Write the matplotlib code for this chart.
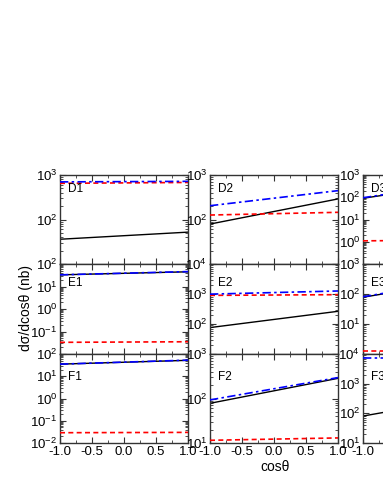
import numpy as np
import matplotlib
matplotlib.use("Agg")
import matplotlib.pyplot as plt
from matplotlib.ticker import FuncFormatter, LogLocator, MultipleLocator, NullFormatter

plt.rcParams['font.family'] = ['Liberation Sans', 'DejaVu Sans']
plt.rcParams['mathtext.default'] = 'regular'

# ---- data ----
cos_theta = [-1.0, 1.0]
panel_names = [["D1", "D2", "D3"], ["E1", "E2", "E3"], ["F1", "F2", "F3"]]

black = {
    "D1": [36, 52], "D2": [79, 290], "D3": [90, 650],
    "E1": [33, 45], "E2": [76, 265], "E3": [78, 400],
    "F1": [35, 52], "F2": [78, 284], "F3": [81, 470],
}
red = {
    "D1": [650, 680], "D2": [126, 145], "D3": [1.1, 1.2],
    "E1": [0.033, 0.035], "E2": [900, 950], "E3": [1.3, 1.3],
    "F1": [0.029, 0.030], "F2": [11.5, 13], "F3": [20000, 20000],
}
blue = {
    "D1": [700, 720], "D2": [204, 445], "D3": [95, 700],
    "E1": [33, 46], "E2": [990, 1260], "E3": [81, 420],
    "F1": [35, 53], "F2": [93, 295], "F3": [7500, 7500],
}
ylims = {
    "D1": (1e1, 1e3), "D2": (1e1, 1e3), "D3": (1e-1, 1e3),
    "E1": (1e-2, 1e2), "E2": (1e1, 1e4), "E3": (1e0, 1e3),
    "F1": (1e-2, 1e2), "F2": (1e1, 1e3), "F3": (1e1, 1e4),
}
xticks = [-1.0, -0.5, 0.0, 0.5, 1.0]
xticklabels = ["-1.0", "-0.5", "0.0", "0.5", "1.0"]

# ---- layout ----
W, H = 383, 495
fig = plt.figure(figsize=(W / 100, H / 100), dpi=100)
col_left = [60, 210, 363]
col_w = 128
row_top = [175, 264, 354]
row_bot = [264, 354, 443]
label_off = [14, 19, 23]

spine_col = '#333333'


def make_fmt(hide_val):
    def f(v, pos):
        e = int(round(np.log10(v)))
        if hide_val is not None and abs(np.log10(v) - np.log10(hide_val)) < 1e-6:
            return ''
        return r'$\mathregular{10^{%d}}$' % e
    return FuncFormatter(f)


for r in range(3):
    for c in range(3):
        name = panel_names[r][c]
        left = col_left[c] / W
        bottom = 1 - row_bot[r] / H
        height = (row_bot[r] - row_top[r]) / H
        ax = fig.add_axes([left, bottom, col_w / W, height])
        ax.set_yscale('log')
        ax.plot(cos_theta, black[name], color='black', lw=1.0, zorder=2)
        ax.plot(cos_theta, red[name], color='red', lw=1.2, ls=(0, (3, 2)), zorder=3)
        ax.plot(cos_theta, blue[name], color='blue', lw=1.2, ls=(0, (5, 2, 1.5, 2)), zorder=4)
        ax.set_xlim(-1.0, 1.0)
        ax.set_ylim(*ylims[name])
        ax.yaxis.set_major_locator(LogLocator(base=10, numticks=10))
        ax.yaxis.set_minor_locator(LogLocator(base=10, subs=np.arange(2, 10), numticks=20))
        ax.yaxis.set_minor_formatter(NullFormatter())
        hide = ylims[name][0] if r < 2 else None
        ax.yaxis.set_major_formatter(make_fmt(hide))
        ax.set_xticks(xticks)
        ax.xaxis.set_minor_locator(MultipleLocator(0.25))
        if r == 2:
            ax.set_xticklabels(xticklabels)
        else:
            ax.set_xticklabels([])
        ax.tick_params(which='both', direction='in', top=True, right=True,
                       labelsize=9.5, pad=2, colors=spine_col, labelcolor='black')
        ax.tick_params(which='major', length=4, width=0.8)
        ax.tick_params(which='minor', length=2, width=0.6)
        for s in ax.spines.values():
            s.set_color(spine_col)
            s.set_linewidth(1.0)
        ax.text(8 / col_w, 1 - label_off[r] / (row_bot[r] - row_top[r]), name,
                transform=ax.transAxes, fontsize=8.5, va='center', ha='left')

fig.text(26 / W, 1 - 308 / H, 'dσ/dcosθ (nb)', rotation=90, fontsize=10,
         ha='center', va='center')
fig.text(275 / W, 1 - 467 / H, 'cosθ', fontsize=10, ha='center', va='center')

fig.savefig('out.png', dpi=100)
